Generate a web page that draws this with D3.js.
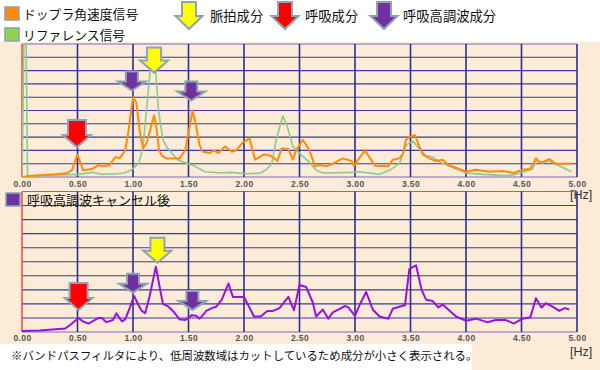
<!DOCTYPE html>
<html><head><meta charset="utf-8">
<script src="https://cdn.jsdelivr.net/npm/d3@7"></script>
<style>body{margin:0;background:#fff;} svg{display:block;}</style>
</head><body><svg id="c" width="600" height="370"></svg>
<script>
// ---------- DATA ----------
const freqTicks = [0, 0.5, 1, 1.5, 2, 2.5, 3, 3.5, 4, 4.5, 5];
const levelTicks = [0, 1, 2, 3, 4, 5, 6, 7, 8, 9, 10];
const unitLabel = "[Hz]";

// ドップラ角速度信号 [freq, level]
const dopplerSignal = [[0,0],[0.1,0.1],[0.2,0.15],[0.3,0.2],[0.4,0.28],[0.45,0.5],[0.5,1.7],[0.55,0.5],[0.63,0.6],[0.69,0.9],[0.73,0.8],[0.79,0.9],[0.84,1.5],[0.88,1.4],[0.93,2.0],[0.96,3.5],[1.0,6.0],[1.03,5.6],[1.06,3.5],[1.09,2.15],[1.12,2.5],[1.16,3.7],[1.19,4.65],[1.21,3.75],[1.235,2.0],[1.26,1.6],[1.30,1.4],[1.42,1.4],[1.47,2.0],[1.50,3.3],[1.536,5.0],[1.56,4.2],[1.60,2.4],[1.63,1.9],[1.69,1.8],[1.73,2.0],[1.77,1.8],[1.83,2.3],[1.89,1.9],[1.93,2.0],[1.99,2.6],[2.05,2.9],[2.10,1.3],[2.18,1.7],[2.24,1.6],[2.30,1.2],[2.34,2.15],[2.40,2.1],[2.44,1.3],[2.47,2.0],[2.53,2.8],[2.59,2.0],[2.64,0.8],[2.68,0.9],[2.74,0.8],[2.80,1.0],[2.89,1.4],[2.97,1.2],[2.99,0.85],[3.09,2.0],[3.18,0.85],[3.30,0.8],[3.34,1.3],[3.40,1.4],[3.43,1.7],[3.46,2.8],[3.49,3.0],[3.54,3.15],[3.57,2.5],[3.61,1.7],[3.67,1.4],[3.73,1.2],[3.79,1.3],[3.84,0.9],[3.91,0.7],[4.00,0.4],[4.09,0.55],[4.21,0.4],[4.33,0.45],[4.43,0.3],[4.51,0.55],[4.58,0.6],[4.63,1.4],[4.67,1.05],[4.75,1.35],[4.81,1.0],[4.87,1.0],[4.95,1.0]];

// リファレンス信号 [freq, level]
const referenceSignal = [[0,0],[0.02,12],[0.035,12],[0.05,0.1],[0.1,0.1],[0.3,0.15],[0.5,0.2],[0.64,0.35],[0.72,0.2],[0.85,0.25],[0.92,0.3],[0.98,0.5],[1.05,1.0],[1.09,2.2],[1.13,5.8],[1.16,8.5],[1.18,8.6],[1.20,8.5],[1.23,5.0],[1.27,2.8],[1.30,2.3],[1.40,1.3],[1.56,0.8],[1.65,0.4],[1.80,0.3],[1.88,0.35],[2.03,0.25],[2.15,0.3],[2.20,0.55],[2.25,1.0],[2.29,2.8],[2.35,4.6],[2.39,3.8],[2.44,2.3],[2.50,1.8],[2.59,1.1],[2.65,0.5],[2.71,0.3],[2.98,0.35],[3.04,0.4],[3.22,0.2],[3.31,0.5],[3.40,1.0],[3.46,2.4],[3.52,2.7],[3.59,2.0],[3.64,1.6],[3.70,1.5],[3.77,1.1],[3.85,0.8],[4.00,0.3],[4.15,0.2],[4.36,0.1],[4.45,0.2],[4.60,0.6],[4.64,1.3],[4.69,1.05],[4.75,1.2],[4.84,0.85],[4.95,0.4]];

// 呼吸高調波キャンセル後 [freq, level]
const cancelledSignal = [[0,0.07],[0.16,0.1],[0.39,0.25],[0.45,0.6],[0.51,1.0],[0.55,0.75],[0.60,0.6],[0.69,1.0],[0.72,1.0],[0.76,0.7],[0.82,0.85],[0.85,1.33],[0.90,0.75],[0.93,0.9],[0.97,1.7],[1.01,2.56],[1.05,1.9],[1.08,1.5],[1.11,1.35],[1.15,2.55],[1.206,4.65],[1.24,3.2],[1.27,2.0],[1.32,1.8],[1.36,1.5],[1.42,0.9],[1.47,0.85],[1.53,1.2],[1.57,1.15],[1.60,0.95],[1.63,1.2],[1.66,1.5],[1.71,1.7],[1.75,1.8],[1.80,2.3],[1.86,3.45],[1.90,2.5],[2.00,2.5],[2.09,1.1],[2.15,1.1],[2.21,1.5],[2.26,1.5],[2.32,1.7],[2.40,2.5],[2.45,1.55],[2.50,3.35],[2.56,3.2],[2.62,2.1],[2.65,1.1],[2.71,1.6],[2.76,0.95],[2.80,1.4],[2.85,1.6],[2.91,1.85],[2.94,1.75],[3.00,1.15],[3.04,1.9],[3.10,2.85],[3.16,1.6],[3.22,1.1],[3.30,0.95],[3.34,1.65],[3.40,1.8],[3.45,1.9],[3.49,4.5],[3.55,4.75],[3.60,3.0],[3.64,2.3],[3.70,2.2],[3.75,1.75],[3.79,1.95],[3.84,1.6],[3.91,1.1],[4.00,0.8],[4.09,0.95],[4.19,0.7],[4.27,0.85],[4.36,0.85],[4.43,0.6],[4.51,0.95],[4.58,1.05],[4.63,2.4],[4.68,1.75],[4.72,2.05],[4.78,1.8],[4.84,1.5],[4.89,1.7],[4.93,1.6]];

// arrow markers: frequency and level of arrow tip
const topArrows = [{f:0.495, v:2.25, kind:"resp"}, {f:0.99, v:6.5, kind:"harm"}, {f:1.19, v:7.85, kind:"pulse"}, {f:1.525, v:5.75, kind:"harm"}];
const bottomArrows = [{f:0.51, v:1.57, kind:"resp"}, {f:1.0, v:2.8, kind:"harm"}, {f:1.22, v:4.93, kind:"pulse"}, {f:1.535, v:1.57, kind:"harm"}];

const seriesNames = ["ドップラ角速度信号", "リファレンス信号", "呼吸高調波キャンセル後"];
const arrowNames = {pulse:"脈拍成分", resp:"呼吸成分", harm:"呼吸高調波成分"};
const noteText = "※バンドパスフィルタにより、低周波数域はカットしているため成分が小さく表示される。";

// ---------- STYLE ----------
const C = {bg:"#fcebd6", orange:"#ff8a0d", green:"#8ccb8c", purple:"#9a10dc",
  grid:"#3a3aa0", vgrid:"#2c2c96", axisY:"#e8403c", border:"#7d6cc4", outline:"#8ea4b4",
  pulse:"#ffff00", resp:"#ff0000", harm:"#7030a0"};
const arrowSize = {
  pulse:{H:25, W:28, S:14, Hh:12},
  resp:{H:27, W:28, S:18, Hh:12},
  harm:{H:19, W:28, S:12, Hh:9}
};
const jp = "'Noto Sans CJK JP','Noto Sans',sans-serif";

const svg = d3.select("#c");
svg.append("rect").attr("x",0).attr("y",42).attr("width",600).attr("height",328).attr("fill",C.bg);
svg.append("rect").attr("x",0).attr("y",344).attr("width",472).attr("height",26).attr("fill","#fff");

const x = d3.scaleLinear().domain([0,5]).range([22,577]);

function arrowPath(cx, tip, s){
  return `M${cx-s.S/2},${tip-s.H}L${cx+s.S/2},${tip-s.H}L${cx+s.S/2},${tip-s.Hh}L${cx+s.W/2},${tip-s.Hh}L${cx},${tip}L${cx-s.W/2},${tip-s.Hh}L${cx-s.S/2},${tip-s.Hh}Z`;
}

function panel(id, top, bottom, series, arrows, labelY, hzY){
  const y = d3.scaleLinear().domain([0,10]).range([bottom, top]);
  const g = svg.append("g");
  // horizontal grid
  g.selectAll("line.h").data(levelTicks).join("line")
    .attr("x1",x(0)).attr("x2",x(5)).attr("y1",d=>y(d)).attr("y2",d=>y(d))
    .attr("stroke",d=> (d===10||d===0)? C.border : C.grid).attr("stroke-width",1.1);
  // vertical grid
  g.selectAll("line.v").data(freqTicks.filter(d=>d>0)).join("line")
    .attr("x1",d=>x(d)).attr("x2",d=>x(d)).attr("y1",y(10)).attr("y2",y(0))
    .attr("stroke",C.vgrid).attr("stroke-width",1.6);
  g.append("line").attr("x1",x(0)).attr("x2",x(0)).attr("y1",y(10)).attr("y2",y(0))
    .attr("stroke",C.axisY).attr("stroke-width",1.4);
  // clip
  svg.append("clipPath").attr("id",id).append("rect")
    .attr("x",x(0)).attr("y",y(10)).attr("width",x(5)-x(0)).attr("height",y(0)-y(10));
  const line = d3.line().x(d=>x(d[0])).y(d=>y(d[1]));
  series.forEach(s=>{
    g.append("path").datum(s.data).attr("d",line).attr("fill","none")
      .attr("stroke",s.color).attr("stroke-width",s.w).attr("stroke-linejoin","round")
      .attr("clip-path",`url(#${id})`);
  });
  // axis labels
  const ax = d3.axisBottom(x).tickValues(freqTicks).tickFormat(d3.format(".2f")).tickSize(0);
  const axg = g.append("g").attr("transform",`translate(0,${labelY})`).call(ax);
  axg.select(".domain").remove();
  axg.selectAll("text").attr("dy",0).attr("y",0)
    .attr("font-family","'Liberation Sans',Arial,sans-serif").attr("font-size",8.5)
    .attr("font-weight","bold").attr("fill","#555").attr("letter-spacing",0.4);
  g.append("text").attr("x",570).attr("y",hzY).text(unitLabel)
    .attr("font-family","'Liberation Sans',Arial,sans-serif").attr("font-size",12.5).attr("fill","#333");
  // arrows
  g.selectAll("path.arrow").data(arrows).join("path")
    .attr("d",d=>arrowPath(x(d.f), y(d.v), arrowSize[d.kind]))
    .attr("fill",d=>C[d.kind]).attr("stroke",C.outline).attr("stroke-width",2).attr("stroke-linejoin","miter");
}

panel("clipTop", 44, 177, [
  {data:referenceSignal, color:C.green, w:1.6},
  {data:dopplerSignal, color:C.orange, w:2}
], topArrows, 187, 199);

panel("clipBot", 191.5, 332, [
  {data:cancelledSignal, color:C.purple, w:2}
], bottomArrows, 341, 356);

// legends
function sq(xx, yy, fill){
  svg.append("rect").attr("x",xx).attr("y",yy).attr("width",14).attr("height",13)
    .attr("fill",fill).attr("stroke",C.outline).attr("stroke-width",1.6);
}
function label(xx, yy, t, fs){
  svg.append("text").attr("x",xx).attr("y",yy).text(t)
    .attr("font-family",jp).attr("font-size",fs).attr("fill","#111");
}
sq(5, 7, C.orange); label(23, 18.5, seriesNames[0], 12.8);
sq(5, 28, "#92d050"); label(23, 39.5, seriesNames[1], 12.8);
sq(6, 193, C.harm); label(27, 204.5, seriesNames[2], 13);

const legendArrows = [{kind:"pulse", cx:189, tx:210}, {kind:"resp", cx:285, tx:305}, {kind:"harm", cx:384, tx:403}];
const legendSize = {H:27, W:27, S:14, Hh:13};
legendArrows.forEach(a=>{
  svg.append("path").attr("d",arrowPath(a.cx, 29, legendSize))
    .attr("fill",C[a.kind]).attr("stroke",C.outline).attr("stroke-width",2);
  label(a.tx, 21, arrowNames[a.kind], 13.3);
});

svg.append("text").attr("x",11).attr("y",360).text(noteText)
  .attr("font-family",jp).attr("font-size",11.4).attr("fill","#111");
</script></body></html>
